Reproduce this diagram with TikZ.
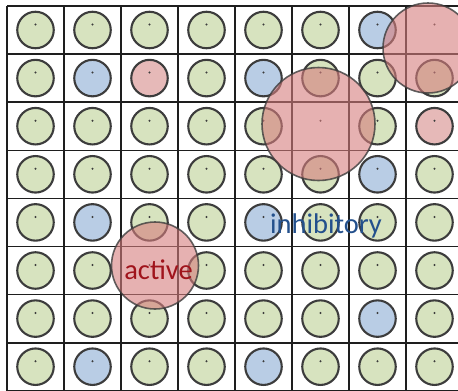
\documentclass[tikz,border=0pt]{standalone}
\usepackage{fontspec}
\usepackage{tikz}
\newfontfamily\labelfont{Carlito}
\definecolor{excitgreen}{RGB}{215,227,191}
\definecolor{inhibblue}{RGB}{185,205,229}
\definecolor{activepink}{RGB}{230,185,184}
\definecolor{fieldred}{RGB}{214,125,125}
\definecolor{rimgray}{RGB}{60,60,60}
\definecolor{gridgray}{RGB}{30,30,30}
\definecolor{activered}{RGB}{160,20,28}
\definecolor{inhibtext}{RGB}{35,80,140}
\tikzset{
  gridline/.style={line width=1.6pt,draw=gridgray},
  neuron/.style={circle,line width=2.1pt,draw=rimgray,minimum size=36.5pt,inner sep=0pt},
  nb-g/.style={neuron,fill=excitgreen},
  nb-b/.style={neuron,fill=inhibblue},
  nb-p/.style={neuron,fill=activepink},
  nb-o/.style={circle,minimum size=36.5pt,inner sep=0pt},
  soma/.style={circle,fill=rimgray,inner sep=0.8pt},
  field/.style={circle,fill=fieldred,fill opacity=0.6,draw=rimgray,draw opacity=0.8,line width=1.6pt,inner sep=0pt},
  cellname/.style={font=\labelfont\fontsize{28.5}{30}\selectfont,anchor=base}
}

\begin{document}
\begin{tikzpicture}[x=1pt,y=-1pt]
  \useasboundingbox (0,0) rectangle (458,391);
  \clip (0,0) rectangle (458,391);

  % grid of cells
  \foreach \c in {0,...,8}
    \draw[gridline] ({7+57*\c},6) -- ({7+57*\c},395);
  \foreach \r in {0,...,8}
    \draw[gridline] (7,{6+48.1*\r}) -- (465,{6+48.1*\r});

  % g excitatory, b inhibitory, p active, o centre of a field
  \foreach \r/\codes in {0/{g,g,g,g,g,g,b,o},
                         1/{g,b,p,g,b,g,g,g},
                         2/{g,g,g,g,g,o,g,p},
                         3/{g,g,g,g,g,g,b,g},
                         4/{g,b,g,g,b,g,g,g},
                         5/{g,g,o,g,g,g,g,g},
                         6/{g,g,g,g,g,g,b,g},
                         7/{g,b,g,g,b,g,g,g}}{
    \foreach \k [count=\ci from 0] in \codes {
      \node[nb-\k] (n\ci-\r) at ({35.5+57*\ci},{30+48.1*\r}) {};
      \node[soma] (s\ci-\r) at ({35.5+57*\ci},{24.5+48.1*\r}) {};
    }
  }

  % fields
  \node[field,minimum size=90pt] (fieldA) at (428,48) {};
  \node[field,minimum size=113pt] (fieldB) at (318.5,124) {};
  \node[field,minimum size=87pt] (fieldC) at (155,265.5) {};

  \node[cellname,text=activered] (activelbl) at (158.5,279) {active};
  \node[cellname,text=inhibtext] (inhiblbl) at (326,233) {inhibitory};
\end{tikzpicture}
\end{document}
